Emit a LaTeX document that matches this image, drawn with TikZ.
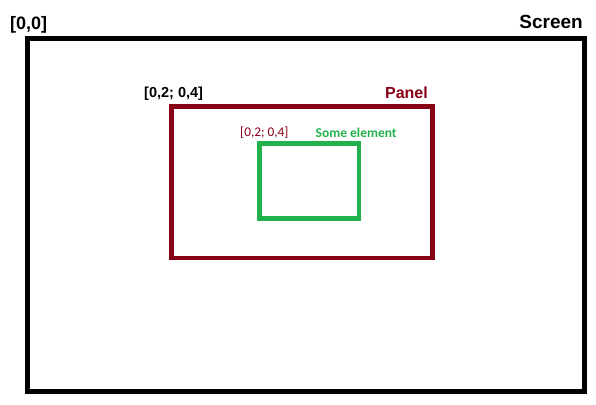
\documentclass[tikz,border=0pt]{standalone}
\usepackage{fontspec}
\setmainfont{Liberation Sans}
\newfontfamily\calib{Carlito}
\definecolor{pdarkred}{HTML}{880015}
\definecolor{pgreen}{HTML}{22B14C}
\begin{document}
\begin{tikzpicture}[x=1pt,y=-1pt,
  boxshape/.style={draw,rectangle,inner sep=0pt,outer sep=0pt},
  biglabel/.style={inner sep=0pt,font=\fontsize{18}{20}\selectfont\bfseries},
  midlabel/.style={inner sep=0pt,font=\fontsize{14.5}{16}\selectfont\bfseries},
  smalllabel/.style={inner sep=0pt,font=\calib\fontsize{13.3}{15}\selectfont}]
\useasboundingbox (0,0) rectangle (596,404);
\node[boxshape,line width=5pt,minimum width=557pt,minimum height=353pt] (screen) at (306,215) {};
\node[boxshape,draw=pdarkred,line width=4.7pt,minimum width=261pt,minimum height=151.2pt] (panel) at (302,182.4) {};
\node[boxshape,draw=pgreen,line width=4.7pt,minimum width=99.3pt,minimum height=74.8pt] (element) at (309.35,181.1) {};
\node[biglabel,anchor=base west] (origin) at (10,30) {[0,0]};
\node[biglabel,anchor=base east,font=\fontsize{19}{21}\selectfont\bfseries] (screenlbl) at (583,28.5) {Screen};
\node[midlabel,anchor=base west] (panelpos) at (144,97) {[0,2; 0,4]};
\node[midlabel,anchor=base east,text=pdarkred,font=\fontsize{16}{18}\selectfont\bfseries] (panellbl) at (428,98) {Panel};
\node[smalllabel,anchor=base west,text=pdarkred] (elempos) at (240,136) {[0,2; 0,4]};
\node[smalllabel,anchor=base west,text=pgreen,font=\calib\fontsize{13.5}{15}\selectfont\bfseries] (elemlbl) at (315.5,137) {Some element};
\end{tikzpicture}
\end{document}
